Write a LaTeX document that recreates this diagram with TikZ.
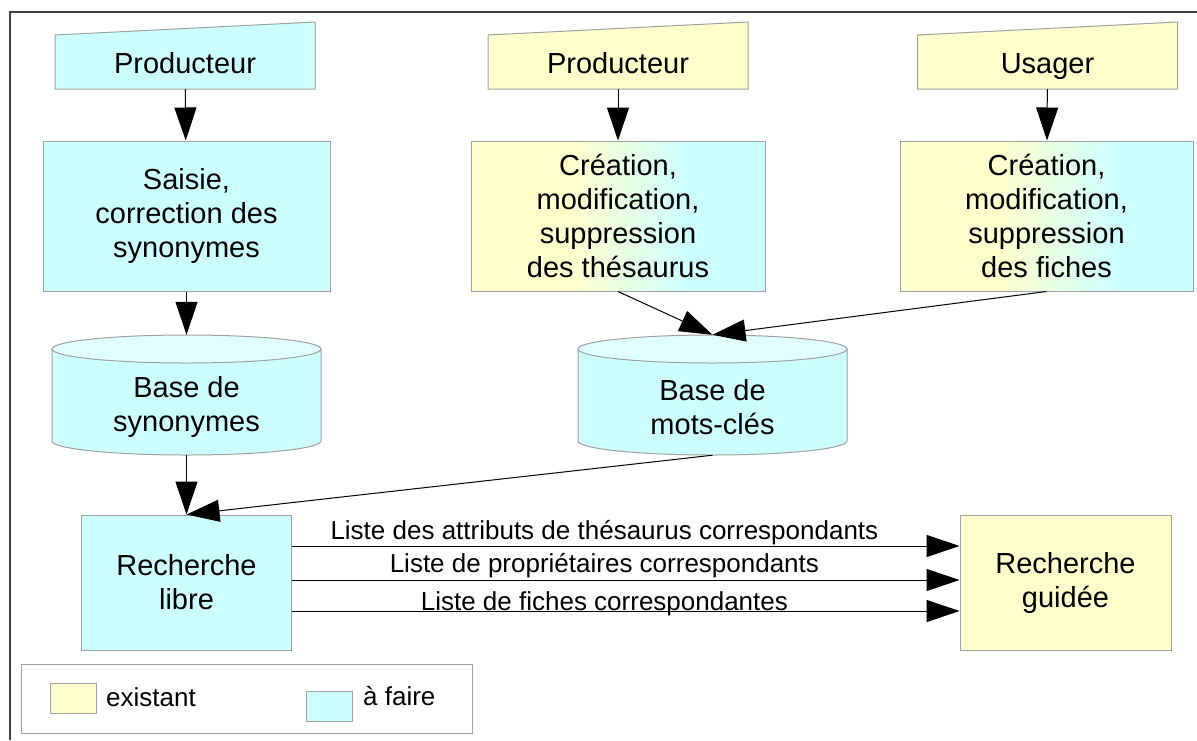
\documentclass[tikz,border=0pt]{standalone}
\usepackage{fontspec}
\setmainfont{Liberation Sans}
\usetikzlibrary{arrows.meta}
\definecolor{cyanfill}{HTML}{CCFFFF}
\definecolor{cyantop}{HTML}{E0FFFF}
\definecolor{yellowfill}{HTML}{FFFFCC}
\definecolor{borderc}{HTML}{A0A0A0}
\definecolor{framec}{HTML}{404040}
\pgfdeclarehorizontalshading{yelcyan}{100bp}{color(0bp)=(yellowfill); color(42bp)=(yellowfill); color(62bp)=(cyanfill); color(100bp)=(cyanfill)}
\newcommand\boxfont{\fontsize{29}{34}\selectfont}
\newcommand\labfont{\fontsize{26}{30}\selectfont}
\tikzset{every picture/.style={x=1pt, y=-1pt},
  proc/.style={draw=borderc, line width=1pt, align=center, font=\boxfont, inner sep=0pt},
  todo/.style={proc, fill=cyanfill},
  done/.style={proc, fill=yellowfill},
  both/.style={proc, shading=yelcyan},
  srcbox/.style={minimum width=260pt, minimum height=54pt, inner sep=0pt, font=\boxfont, text height=22pt, text depth=0pt},
  dbbox/.style={minimum width=269pt, minimum height=120pt, inner sep=0pt},
  dblabel/.style={align=center, font=\boxfont, yshift=-12pt},
  flow/.style={-{Triangle[length=33pt, width=22pt]}, line width=1pt},
  listlab/.style={font=\labfont, anchor=base},
  swatch/.style={draw=borderc, line width=1pt, minimum width=46pt, minimum height=30pt, inner sep=0pt},
  legtext/.style={font=\labfont, anchor=base west, inner sep=0pt}}
% name, x, y, fill, text
\newcommand\source[5]{
  \filldraw[fill=#4, draw=borderc, line width=1pt] (#2-130, #3+27) -- (#2+130, #3+27) -- (#2+130, #3-40) -- (#2-130, #3-27) -- cycle;
  \node[srcbox] (#1) at (#2, #3) {#5};
}
% name, x, y, text
\newcommand\database[4]{
  \filldraw[fill=cyanfill, draw=borderc, line width=1pt] (#2-134.5, #3-46) -- (#2-134.5, #3+46) arc[start angle=180, end angle=360, x radius=134.5pt, y radius=14pt] -- (#2+134.5, #3-46) -- cycle;
  \filldraw[fill=cyantop, draw=borderc, line width=1pt] (#2, #3-46) ellipse[x radius=134.5pt, y radius=14pt];
  \node[dbbox, label={[dblabel]center:{#4}}] (#1) at (#2, #3) {};
}

\begin{document}
\begin{tikzpicture}
  \useasboundingbox (0,0) rectangle (1197,740);
  \draw[framec, line width=1.5pt] (10,740) -- (10,12) -- (1197,12);

  \source{prodSyn}{185}{62}{cyanfill}{Producteur}
  \source{prodThes}{618}{62}{yellowfill}{Producteur}
  \source{usager}{1047.5}{62}{yellowfill}{Usager}

  \node[todo, minimum width=287pt, minimum height=150pt] (saisie) at (186.5,216) {Saisie,\\correction des\\synonymes};
  \node[both, minimum width=294pt, minimum height=150pt] (creaThes) at (618,216) {Création,\\modification,\\suppression\\des thésaurus};
  \node[both, minimum width=293pt, minimum height=150pt] (creaFiche) at (1046.5,216) {Création,\\modification,\\suppression\\des fiches};

  \database{baseSyn}{186.5}{395}{Base de\\synonymes}
  \database{baseMots}{712.5}{395}{Base de\\mots-clés}

  \node[todo, minimum width=210pt, minimum height=135pt] (rechLibre) at (186.5,582.5) {Recherche\\libre};
  \node[done, minimum width=211pt, minimum height=135pt] (rechGuidee) at (1065.5,582.5) {Recherche\\guidée};

  \draw[flow] (prodSyn) -- (saisie);
  \draw[flow] (prodThes) -- (creaThes);
  \draw[flow] (usager) -- (creaFiche);
  \draw[flow] (saisie) -- (baseSyn);
  \draw[flow] (creaThes.south) -- (baseMots.north);
  \draw[flow] (creaFiche.south) -- (baseMots.north);
  \draw[flow] (baseSyn.south) -- (rechLibre.north);
  \draw[flow] (baseMots.south) -- (rechLibre.north);

  \draw[flow] ([yshift=36.5pt]rechLibre.east) -- node[listlab, pos=0.468, yshift=7pt] {Liste des attributs de thésaurus correspondants} ([yshift=36.5pt]rechGuidee.west);
  \draw[flow] ([yshift=2.5pt]rechLibre.east) -- node[listlab, pos=0.468, yshift=8pt] {Liste de propriétaires correspondants} ([yshift=2.5pt]rechGuidee.west);
  \draw[flow] ([yshift=-28.5pt]rechLibre.east) -- node[listlab, pos=0.468, yshift=1pt] {Liste de fiches correspondantes} ([yshift=-28.5pt]rechGuidee.west);

  % legende
  \node[draw=borderc, line width=1pt, minimum width=451pt, minimum height=69pt] (legend) at (246.5,698.5) {};
  \node[swatch, fill=yellowfill] (swDone) at (73.5,698) {};
  \node[legtext] (txtDone) at (106,706) {existant};
  \node[swatch, fill=cyanfill] (swTodo) at (329,706) {};
  \node[legtext] (txtTodo) at (363,705) {à faire};
\end{tikzpicture}
\end{document}
